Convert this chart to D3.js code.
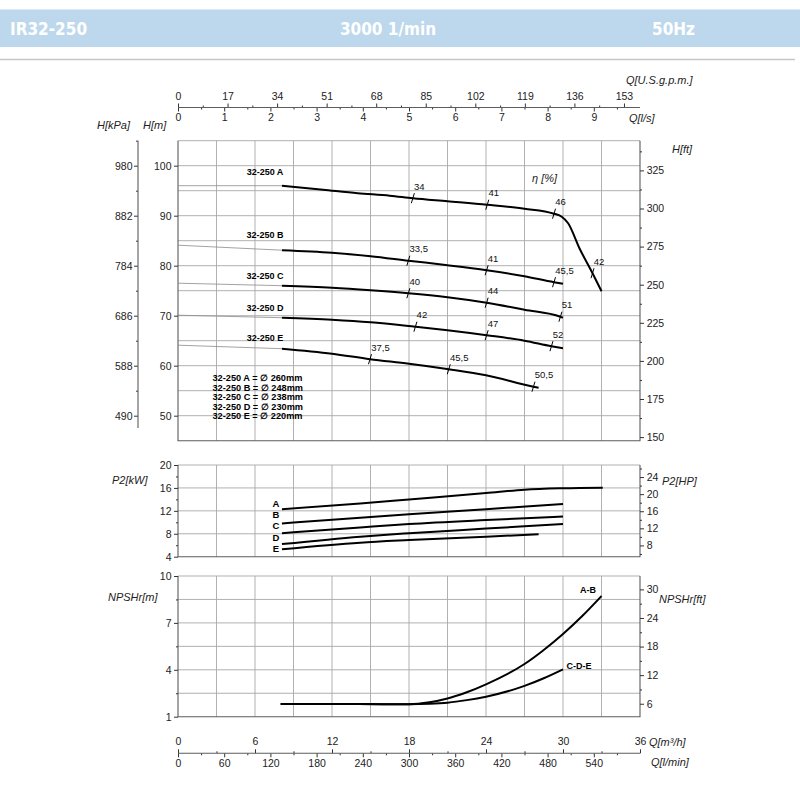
<!DOCTYPE html>
<html lang="en">
<head>
<meta charset="utf-8">
<title>IR32-250</title>
<script src="https://cdn.jsdelivr.net/npm/d3@7"></script>
<style>
  body { margin: 0; background: #fff; }
  svg { display: block; font-family: "Liberation Sans", Arial, sans-serif; }
</style>
</head>
<body>
<script>
// ---- data ----
var curveNames = ["A", "B", "C", "D", "E"]
var diameters = [260, 248, 238, 230, 220]

// H [m] vs Q [m3/h]
var headA = [[8.1,96.0],[11.3,95.2],[14,94.5],[16.5,94.0],[18.3,93.5],[21,92.9],[24.1,92.2],[27,91.4],[29.3,90.4],[29.9,89.8],[30.4,88.5],[31.3,83.4],[32.3,78.5],[33,74.9]]
var headB = [[8.1,83.1],[12,82.6],[15,81.9],[17.95,81.0],[21,80.1],[24.05,79.1],[27,77.9],[29.3,76.7],[30,76.4]]
var headC = [[8.1,76.0],[12,75.6],[15,75.1],[17.95,74.5],[21,73.7],[24.05,72.6],[27,71.2],[29.8,69.8],[30,69.6]]
var headD = [[8.1,69.6],[12,69.2],[15,68.7],[18.5,67.8],[21,67.1],[24.05,66.1],[27,65.0],[29.1,63.9],[30,63.5]]
var headE = [[8.1,63.4],[12,62.4],[14.96,61.3],[18,60.4],[21.1,59.3],[24,58.1],[27.7,55.8],[28.1,55.6]]

// thin lead-in lines from Q=0
var leadA = [[0,96.0],[8.1,96.0]]
var leadB = [[0,84.1],[8.1,83.1]]
var leadC = [[0,76.5],[8.1,76.0]]
var leadD = [[0,70.1],[8.1,69.6]]
var leadE = [[0,64.1],[8.1,63.4]]

// efficiency marks [Q, H, eta]
var effA = [[18.3,93.5,"34"],[24.1,92.2,"41"],[29.3,90.4,"46"],[32.3,78.5,"42"]]
var effB = [[17.95,81.0,"33,5"],[24.05,79.1,"41"],[29.3,76.7,"45,5"]]
var effC = [[17.95,74.5,"40"],[24.05,72.6,"44"],[29.8,69.8,"51"]]
var effD = [[18.5,67.8,"42"],[24.05,66.1,"47"],[29.1,63.9,"52"]]
var effE = [[14.96,61.3,"37,5"],[21.1,59.3,"45,5"],[27.7,55.8,"50,5"]]

// P2 [kW] vs Q [m3/h]
var powerA = [[8.1,12.3],[14.2,13.3],[18,14.0],[24,15.1],[27,15.7],[30,15.95],[33.1,16.05]]
var powerB = [[8.1,9.8],[14.2,10.8],[18,11.4],[24,12.3],[30,13.2]]
var powerC = [[8.1,8.1],[14.2,9.1],[18,9.7],[24,10.4],[30,11.0]]
var powerD = [[8.1,6.2],[14.2,7.5],[18,8.1],[24,8.9],[30,9.7]]
var powerE = [[8.1,5.3],[14.2,6.45],[18,6.9],[24,7.5],[28.1,7.9]]

// NPSHr [m] vs Q [m3/h]
var npshAB = [[8,1.81],[12,1.81],[16,1.80],[18,1.80],[19.6,1.92],[21,2.16],[22.5,2.56],[24,3.07],[27,4.37],[28.5,5.27],[30,6.29],[31.5,7.44],[33,8.72]]
var npshCDE = [[8,1.81],[12,1.81],[16,1.80],[18,1.80],[19.6,1.83],[21,1.90],[22.5,2.06],[24,2.28],[27,2.97],[28.5,3.46],[30,4.03]]

// tick values
var qGrid = [3,6,9,12,15,18,21,24,27,30,33]
var hGrid = [50,55,60,65,70,75,80,85,90,95,100]
var hTicks = [50,60,70,80,90,100]
var kpaTicks = [490,588,686,784,882,980]
var kpaMinor = [539,637,735,833,931,1029]
var ftTicks = [150,175,200,225,250,275,300,325]
var ftMinor = [162.5,187.5,212.5,237.5,262.5,287.5,312.5,337.5]
var pTicks = [4,8,12,16,20]
var pMinor = [6,10,14,18]
var hpTicks = [8,12,16,20,24]
var hpMinor = [6,10,14,18,22,26]
var nTicks = [1,4,7,10]
var nMinor = [2.5,5.5,8.5]
var nftTicks = [6,12,18,24,30]
var nftMinor = [9,15,21,27]
var gpmTicks = [0,17,34,51,68,85,102,119,136,153]
var gpmMinor = [8.5,25.5,42.5,59.5,76.5,93.5,110.5,127.5,144.5]
var lsTicks = [0,1,2,3,4,5,6,7,8,9]
var lsMinor = [0.5,1.5,2.5,3.5,4.5,5.5,6.5,7.5,8.5,9.5]
var m3hTicks = [0,6,12,18,24,30,36]
var m3hMinor = [3,9,15,21,27,33]
var lminTicks = [0,60,120,180,240,300,360,420,480,540]
var lminMinor = [30,90,150,210,270,330,390,450,510,570]

// ---- drawing ----
var w = 800, h = 800
var svg = d3.select("body").append("svg").attr("width", w).attr("height", h)

var gridColor = "#a8a8a8", frameColor = "#5c5c5c", tickColor = "#333"

// header band
svg.append("rect").attr("x", 0).attr("y", 9.5).attr("width", w).attr("height", 37.5).attr("fill", "#bdd8ec")
var head = svg.append("g")
	.attr("font-family", "'DejaVu Sans Condensed', 'Liberation Sans Narrow', 'Roboto', sans-serif")
	.attr("font-weight", "bold").attr("font-size", 17).attr("fill", "#fff")
head.append("text").attr("x", 10).attr("y", 35).text("IR32-250")
head.append("text").attr("x", 388).attr("y", 35).attr("text-anchor", "middle").text("3000 1/min")
head.append("text").attr("x", 652).attr("y", 35).text("50Hz")
svg.append("line").attr("x1", 0).attr("x2", 795).attr("y1", 59.5).attr("y2", 59.5)
	.attr("stroke", "#c6c6c6").attr("stroke-width", 1.5)

// scales
var x = d3.scaleLinear().domain([0, 36]).range([178, 640])
var yH = d3.scaleLinear().domain([45, 105]).range([440.7, 140.7])
var yK = d3.scaleLinear().domain([45 * 9.8, 105 * 9.8]).range([440.7, 140.7])
var yFt = d3.scaleLinear().domain([45 / 0.3048, 105 / 0.3048]).range([440.7, 140.7])
var yP = d3.scaleLinear().domain([4, 20]).range([556.7, 465])
var yHP = d3.scaleLinear().domain([4 * 1.341, 20 * 1.341]).range([556.7, 465])
var yN = d3.scaleLinear().domain([1, 10]).range([716.7, 576])
var yNft = d3.scaleLinear().domain([1 / 0.3048, 10 / 0.3048]).range([716.7, 576])
var xGpm = d3.scaleLinear().domain([0, 36 * 4.40287]).range([178, 640])
var xLs = d3.scaleLinear().domain([0, 10]).range([178, 640])
var xLmin = d3.scaleLinear().domain([0, 600]).range([178, 640])

function panel(yScale, yLines) {
	var g = svg.append("g")
	var y0 = yScale.range()[0], y1 = yScale.range()[1]
	g.selectAll(".vg").data(qGrid).enter().append("line").attr("class", "vg")
		.attr("x1", function(d) { return x(d) }).attr("x2", function(d) { return x(d) })
		.attr("y1", y0).attr("y2", y1)
		.attr("stroke", gridColor).attr("stroke-width", 0.9)
	g.selectAll(".hg").data(yLines).enter().append("line").attr("class", "hg")
		.attr("x1", x(0)).attr("x2", x(36))
		.attr("y1", function(d) { return yScale(d) }).attr("y2", function(d) { return yScale(d) })
		.attr("stroke", gridColor).attr("stroke-width", 0.9)
	g.append("line").attr("x1", x(0)).attr("x2", x(36)).attr("y1", y1).attr("y2", y1)
		.attr("stroke", gridColor).attr("stroke-width", 0.9)
	g.append("path").attr("d", "M" + x(0) + "," + y1 + "V" + y0 + "H" + x(36) + "V" + y1)
		.attr("fill", "none").attr("stroke", frameColor).attr("stroke-width", 1.1)
}

function drawAxis(orient, scale, tx, ty, major, minor, pad) {
	var make = { left: d3.axisLeft, right: d3.axisRight, top: d3.axisTop, bottom: d3.axisBottom }[orient]
	var g = svg.append("g").attr("transform", "translate(" + tx + "," + ty + ")").attr("color", tickColor)
	if (minor) {
		g.append("g").call(make(scale).tickValues(minor).tickSize(2).tickSizeOuter(0).tickFormat(""))
	}
	g.append("g").call(make(scale).tickValues(major).tickSize(4).tickSizeOuter(0).tickPadding(pad))
	g.selectAll("g").attr("font-family", null).attr("font-size", 10.5)
	g.selectAll(".domain").remove()
	g.selectAll("text").attr("fill", "#222")
	return g
}

panel(yH, hGrid)
panel(yP, [8, 12, 16])
panel(yN, [2.5, 4, 5.5, 7, 8.5])

// main chart axes
drawAxis("left", yH, x(0), 0, hTicks, null, 2.5)
drawAxis("right", yFt, x(36), 0, ftTicks, ftMinor, 2.7)
drawAxis("left", yK, 138, 0, kpaTicks, kpaMinor, 1.5)
svg.append("line").attr("x1", 138).attr("x2", 138).attr("y1", yK(1029)).attr("y2", yK(466))
	.attr("stroke", frameColor).attr("stroke-width", 1.1)

// P2 axes
drawAxis("left", yP, x(0), 0, pTicks, pMinor, 2.5)
drawAxis("right", yHP, x(36), 0, hpTicks, hpMinor, 2.7)

// NPSH axes
drawAxis("left", yN, x(0), 0, nTicks, nMinor, 2.5)
drawAxis("right", yNft, x(36), 0, nftTicks, nftMinor, 2.7)

// top flow axes
var topY = 107.5
drawAxis("top", xGpm, 0, topY, gpmTicks, gpmMinor, 4)
drawAxis("bottom", xLs, 0, topY, lsTicks, lsMinor, 2.5)
svg.append("line").attr("x1", x(0)).attr("x2", x(36)).attr("y1", topY).attr("y2", topY)
	.attr("stroke", frameColor).attr("stroke-width", 1.1)

// bottom flow axes
var botY = 753.3
drawAxis("top", x, 0, botY, m3hTicks, m3hMinor, 4)
drawAxis("bottom", xLmin, 0, botY, lminTicks, lminMinor, 2)
svg.append("line").attr("x1", x(0)).attr("x2", x(36)).attr("y1", botY).attr("y2", botY)
	.attr("stroke", frameColor).attr("stroke-width", 1.1)

// axis titles
var titles = svg.append("g").attr("font-style", "italic").attr("font-size", 11).attr("fill", "#222")
function title(tx, ty, t) { return titles.append("text").attr("x", tx).attr("y", ty).text(t) }
title(97, 129, "H[kPa]")
title(143, 129, "H[m]")
title(626, 84, "Q[U.S.g.p.m.]")
title(629, 122, "Q[l/s]")
title(672, 153, "H[ft]")
title(532, 182, "\u03B7 [%]")
title(112, 484, "P2[kW]")
title(662, 485, "P2[HP]")
title(108, 601, "NPSHr[m]")
title(659, 603, "NPSHr[ft]")
title(649, 746, "Q[m\u00B3/h]")
title(651, 766, "Q[l/min]")

// curves
var heads = [headA, headB, headC, headD, headE]
var leads = [leadA, leadB, leadC, leadD, leadE]
var effs = [effA, effB, effC, effD, effE]
var powers = [powerA, powerB, powerC, powerD, powerE]
var labelH = [98.1, 85.6, 77.4, 70.9, 64.9]

var lineH = d3.line().x(function(d) { return x(d[0]) }).y(function(d) { return yH(d[1]) }).curve(d3.curveMonotoneX)
svg.selectAll(".lead").data(leads).enter().append("path").attr("class", "lead")
	.attr("d", d3.line().x(function(d) { return x(d[0]) }).y(function(d) { return yH(d[1]) }))
	.attr("fill", "none").attr("stroke", "#8a8a8a").attr("stroke-width", 0.8)

svg.selectAll(".head").data(heads).enter().append("path").attr("class", "head")
	.attr("d", lineH)
	.attr("fill", "none").attr("stroke", "#000").attr("stroke-width", 2)

// efficiency marks
effs.forEach(function(list) {
	var g = svg.append("g")
	g.selectAll("line").data(list).enter().append("line")
		.attr("x1", function(d) { return x(d[0]) - 1.5 }).attr("y1", function(d) { return yH(d[1]) + 5 })
		.attr("x2", function(d) { return x(d[0]) + 1.5 }).attr("y2", function(d) { return yH(d[1]) - 5 })
		.attr("stroke", "#000").attr("stroke-width", 1)
	g.selectAll("text").data(list).enter().append("text")
		.attr("x", function(d) { return x(d[0]) + 1.2 })
		.attr("y", function(d) { return yH(d[1]) - 8.5 })
		.attr("font-size", 9.5).attr("fill", "#111")
		.text(function(d) { return d[2] })
})

// curve names
svg.selectAll(".cname").data(curveNames).enter().append("text").attr("class", "cname")
	.attr("x", 265).attr("y", function(d, i) { return yH(labelH[i]) })
	.attr("text-anchor", "middle").attr("font-size", 9).attr("font-weight", "bold")
	.text(function(d) { return "32-250 " + d })

// diameter legend
svg.selectAll(".dia").data(curveNames).enter().append("text").attr("class", "dia")
	.attr("x", 212.5).attr("y", function(d, i) { return 381 + i * 9.5 })
	.attr("font-size", 9.2).attr("font-weight", "bold")
	.text(function(d, i) { return "32-250 " + d + " = \u2205 " + diameters[i] + "mm" })

// power curves
var lineP = d3.line().x(function(d) { return x(d[0]) }).y(function(d) { return yP(d[1]) }).curve(d3.curveMonotoneX)
svg.selectAll(".pow").data(powers).enter().append("path").attr("class", "pow")
	.attr("d", lineP)
	.attr("fill", "none").attr("stroke", "#000").attr("stroke-width", 2)
var pLabelY = [504, 514.7, 525.7, 538, 548.3]
svg.selectAll(".plab").data(curveNames).enter().append("text").attr("class", "plab")
	.attr("x", 276).attr("y", function(d, i) { return pLabelY[i] + 3.3 })
	.attr("text-anchor", "middle").attr("font-size", 9.5).attr("font-weight", "bold")
	.text(function(d) { return d })

// NPSH curves
var lineN = d3.line().x(function(d) { return x(d[0]) }).y(function(d) { return yN(d[1]) }).curve(d3.curveMonotoneX)
svg.selectAll(".npsh").data([npshAB, npshCDE]).enter().append("path").attr("class", "npsh")
	.attr("d", lineN)
	.attr("fill", "none").attr("stroke", "#000").attr("stroke-width", 2)
svg.append("text").attr("x", 580).attr("y", 592.5).attr("font-size", 9).attr("font-weight", "bold").text("A-B")
svg.append("text").attr("x", 566.5).attr("y", 669.3).attr("font-size", 9).attr("font-weight", "bold").text("C-D-E")
</script>
</body>
</html>
